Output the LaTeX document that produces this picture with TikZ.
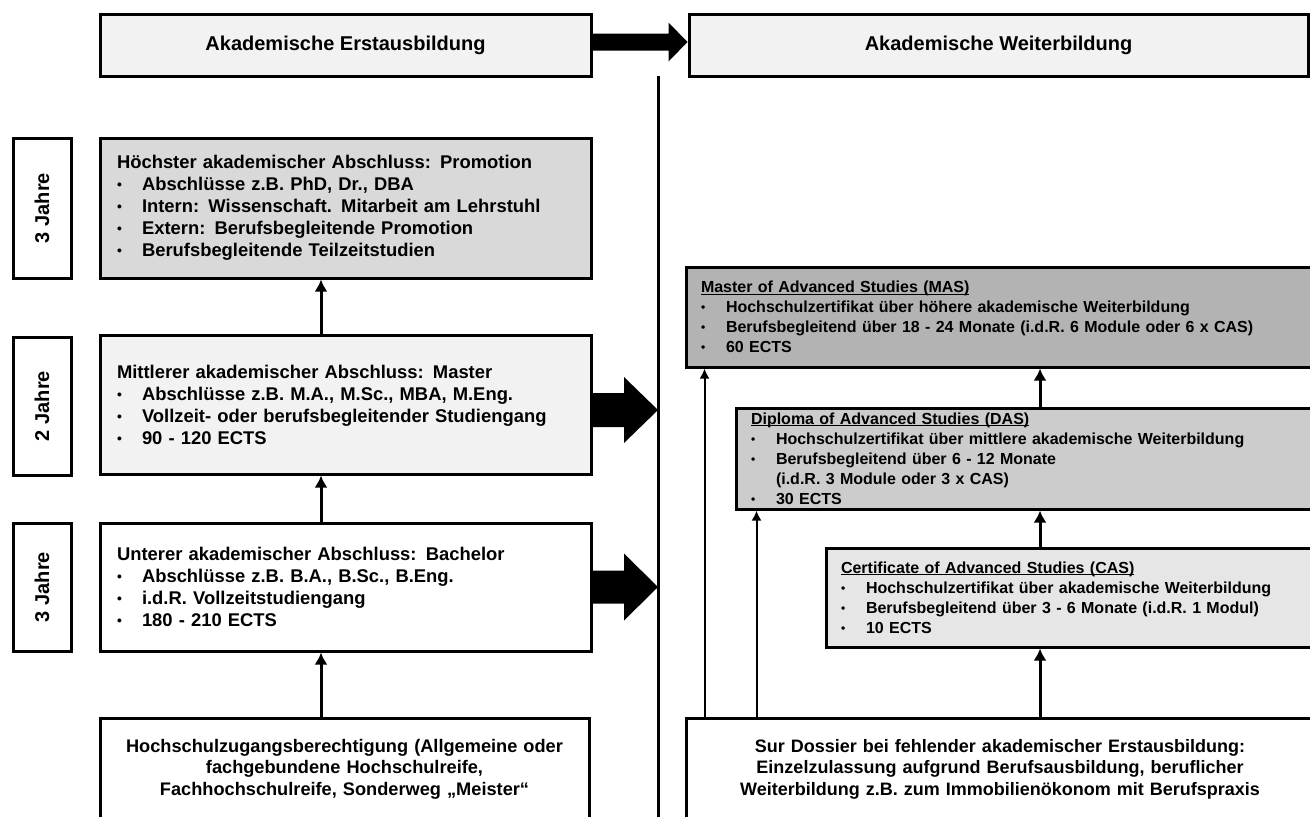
\documentclass[tikz,border=0pt]{standalone}
\usepackage{fontspec}
\setmainfont{Liberation Sans}
\usepackage{graphicx}
\usetikzlibrary{calc,arrows.meta}

\definecolor{headgray}{HTML}{F2F2F2}
\definecolor{promogray}{HTML}{D9D9D9}
\definecolor{masgray}{HTML}{B3B3B3}
\definecolor{dasgray}{HTML}{CCCCCC}
\definecolor{casgray}{HTML}{E6E6E6}

\newcommand{\itm}{\makebox[12.5pt][l]{\raisebox{0.4pt}{\scalebox{0.75}{\textbullet}}}}
\newcommand{\indnt}{\hspace*{12.5pt}}
\newcommand{\ulin}[1]{\setbox0\hbox{#1}\rlap{\rule[-1.1pt]{\wd0}{0.5pt}}\box0}
% start, tip, shaft half, head half, head length
\newcommand{\bigarrow}[5]{%
  \fill ($(#1)+(0,-#3)$) -- ($(#2)+(-#5,-#3)$) -- ($(#2)+(-#5,-#4)$) -- (#2)
     -- ($(#2)+(-#5,#4)$) -- ($(#2)+(-#5,#3)$) -- ($(#1)+(0,#3)$) -- cycle;}

\begin{document}
\begin{tikzpicture}[x=0.5pt,y=-0.5pt,
    boxbase/.style={draw, rectangle, line width=1.5pt, inner ysep=2pt},
    headbox/.style={boxbase, fill=headgray, minimum height=31pt, font=\fontsize{10}{12}\selectfont\bfseries},
    yearbox/.style={boxbase, fill=white, minimum width=29pt, font=\fontsize{10}{12}\selectfont\bfseries},
    leftbox/.style={boxbase, align=left, inner xsep=8.5pt, text width=228.5pt, minimum width=245.5pt,
      font=\fontsize{9.2}{11}\selectfont\bfseries},
    rightbox/.style={boxbase, align=left, inner xsep=7.5pt, font=\fontsize{8}{10}\selectfont\bfseries},
    basebox/.style={boxbase, fill=white, align=center, font=\fontsize{9.1}{10.8}\selectfont\bfseries},
    uparr/.style={line width=1.5pt, -{Latex[length=6pt,width=6.5pt]}},
    thinarr/.style={line width=1pt, -{Latex[length=5pt,width=5pt]}}]

  \useasboundingbox (0,0) rectangle (1310,816);
  \clip (0,0) rectangle (1310,816);

  \node[headbox, minimum width=245.5pt] (hl) at (345.5,45) {Akademische Erstausbildung};
  \node[headbox, minimum width=309.5pt] (hr) at (998.5,45) {Akademische Weiterbildung};

  \node[yearbox, minimum height=70pt] (y1) at (42,208) {\rotatebox{90}{3 Jahre}};
  \node[yearbox, minimum height=69pt] (y2) at (42,406) {\rotatebox{90}{2 Jahre}};
  \node[yearbox, minimum height=64pt] (y3) at (42,587) {\rotatebox{90}{3 Jahre}};

  \node[leftbox, fill=promogray, minimum height=70pt] (promo) at (345.5,208) {%
    Höchster akademischer Abschluss: Promotion\\
    \itm Abschlüsse z.B. PhD, Dr., DBA\\
    \itm Intern: Wissenschaft. Mitarbeit am Lehrstuhl\\
    \itm Extern: Berufsbegleitende Promotion\\
    \itm Berufsbegleitende Teilzeitstudien};
  \node[leftbox, fill=headgray, minimum height=69.5pt] (master) at (345.5,404.5) {%
    Mittlerer akademischer Abschluss: Master\\
    \itm Abschlüsse z.B. M.A., M.Sc., MBA, M.Eng.\\
    \itm Vollzeit- oder berufsbegleitender Studiengang\\
    \itm 90 - 120 ECTS};
  \node[leftbox, fill=white, minimum height=64pt] (bachelor) at (345.5,587) {%
    Unterer akademischer Abschluss: Bachelor\\
    \itm Abschlüsse z.B. B.A., B.Sc., B.Eng.\\
    \itm i.d.R. Vollzeitstudiengang\\
    \itm 180 - 210 ECTS};
  \node[basebox, text width=228pt, minimum width=244.5pt, minimum height=51pt] (zugang) at (344.5,769) {%
    Hochschulzugangsberechtigung (Allgemeine oder\\
    fachgebundene Hochschulreife,\\
    Fachhochschulreife, Sonderweg „Meister“};

  \node[rightbox, fill=masgray, text width=299pt, minimum width=314pt, minimum height=50pt] (mas) at (1000,317) {%
    \ulin{Master of Advanced Studies (MAS)}\\
    \itm Hochschulzertifikat über höhere akademische Weiterbildung\\
    \itm Berufsbegleitend über 18 - 24 Monate (i.d.R. 6 Module oder 6 x CAS)\\
    \itm 60 ECTS};
  \node[rightbox, fill=dasgray, text width=274pt, minimum width=289pt, minimum height=50.5pt] (das) at (1025,458.5) {%
    \ulin{Diploma of Advanced Studies (DAS)}\\
    \itm Hochschulzertifikat über mittlere akademische Weiterbildung\\
    \itm Berufsbegleitend über 6 - 12 Monate\\
    \indnt (i.d.R. 3 Module oder 3 x CAS)\\
    \itm 30 ECTS};
  \node[rightbox, fill=casgray, text width=229pt, minimum width=244pt, minimum height=49.5pt] (cas) at (1070,597.5) {%
    \ulin{Certificate of Advanced Studies (CAS)}\\
    \itm Hochschulzertifikat über akademische Weiterbildung\\
    \itm Berufsbegleitend über 3 - 6 Monate (i.d.R. 1 Modul)\\
    \itm 10 ECTS};
  \node[basebox, font=\fontsize{9}{10.8}\selectfont\bfseries, text width=299pt, minimum width=314pt, minimum height=51pt] (dossier) at (1000,769) {%
    Sur Dossier bei fehlender akademischer Erstausbildung:\\
    Einzelzulassung aufgrund Berufsausbildung, beruflicher\\
    Weiterbildung z.B. zum Immobilienökonom mit Berufspraxis};

  \coordinate (vtop) at (658,76);
  \coordinate (vbot) at (658,820);
  \draw[line width=1.5pt] (vtop) -- (vbot);

  \coordinate (hs) at ($(hl.east)+(0,-3)$);
  \coordinate (ht) at ($(hr.west)+(0,-3)$);
  \bigarrow{hs}{ht}{8.5}{19.5}{19}
  \coordinate (ms) at ($(master.east)+(0,5.5)$);
  \coordinate (mtip) at (ms -| vtop);
  \bigarrow{ms}{mtip}{17}{33}{34}
  \coordinate (bs) at (bachelor.east);
  \coordinate (btip) at (bs -| vtop);
  \bigarrow{bs}{btip}{16.5}{33.5}{34}

  \draw[uparr] ($(master.north)+(-24.5,0)$) -- ($(promo.south)+(-24.5,0)$);
  \draw[uparr] ($(bachelor.north)+(-24.5,0)$) -- ($(master.south)+(-24.5,0)$);
  \draw[uparr] ($(zugang.north)+(-23.5,0)$) -- ($(bachelor.south)+(-24.5,0)$);

  \draw[uparr] ($(dossier.north)+(40,0)$) -- ($(cas.south)+(-30,0)$);
  \draw[uparr] ($(cas.north)+(-30,0)$) -- ($(das.south)+(15,0)$);
  \draw[uparr] ($(das.north)+(15,0)$) -- ($(mas.south)+(40,0)$);
  \draw[thinarr] ($(dossier.north west)+(20,0)$) -- ($(mas.south west)+(20,0)$);
  \draw[thinarr] ($(dossier.north west)+(72,0)$) -- ($(das.south west)+(22,0)$);

\end{tikzpicture}
\end{document}
